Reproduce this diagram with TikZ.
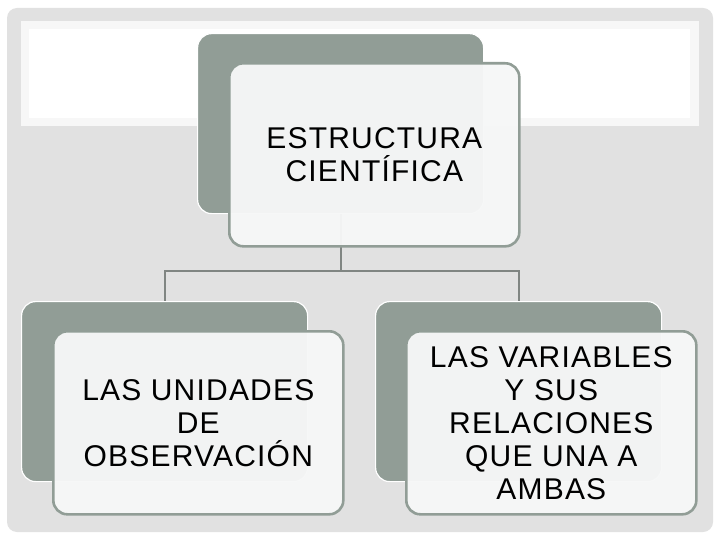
\documentclass[tikz,border=0pt]{standalone}
\usepackage{fontspec}
\setmainfont[LetterSpace=4]{Liberation Sans}
\usepackage{tikz}
\usetikzlibrary{positioning}
\definecolor{slate}{RGB}{145,157,150}
\definecolor{paper}{RGB}{225,225,225}
\definecolor{band}{RGB}{247,247,247}
\definecolor{cardfill}{RGB}{246,247,247}
\definecolor{linkgray}{RGB}{128,133,130}

\begin{document}
\begin{tikzpicture}[
  x=1bp, y=-1bp,
  back/.style={draw=white, line width=1.2bp, rounded corners=14bp, fill=slate,
    anchor=north west, minimum width=286bp, minimum height=180bp},
  card/.style={draw=slate, line width=2.6bp, rounded corners=14bp, fill=cardfill,
    fill opacity=0.96, text opacity=1, anchor=north west,
    minimum width=290bp, minimum height=183bp, align=center,
    font=\fontsize{30bp}{33bp}\selectfont},
  link/.style={draw=linkgray, line width=2.2bp}
]
\useasboundingbox (0,0) rectangle (720,540);
\fill[white] (0,0) rectangle (720,540);
\fill[paper, rounded corners=10bp] (7,8) rectangle (713,532);
% empty title area
\fill[band] (21,21) rectangle (699,126);
\fill[white] (29,29) rectangle (690,118);

\node[back] (topback) at (197,33) {};
\node[back] (leftback) at (21,301) {};
\node[back] (rightback) at (375,301) {};

\draw[link] (topback.south) -- ++(0,57) -| (leftback.north);
\draw[link] (topback.south) -- ++(0,57) -| (rightback.north);

\node[card] (top) at (228,62) {ESTRUCTURA\\CIENTÍFICA};
\node[card] (left) at (52,330) {LAS UNIDADES\\DE\\OBSERVACIÓN};
\node[card] (right) at (405,330) {LAS VARIABLES\\Y SUS\\RELACIONES\\QUE UNA A\\AMBAS};
\end{tikzpicture}
\end{document}
